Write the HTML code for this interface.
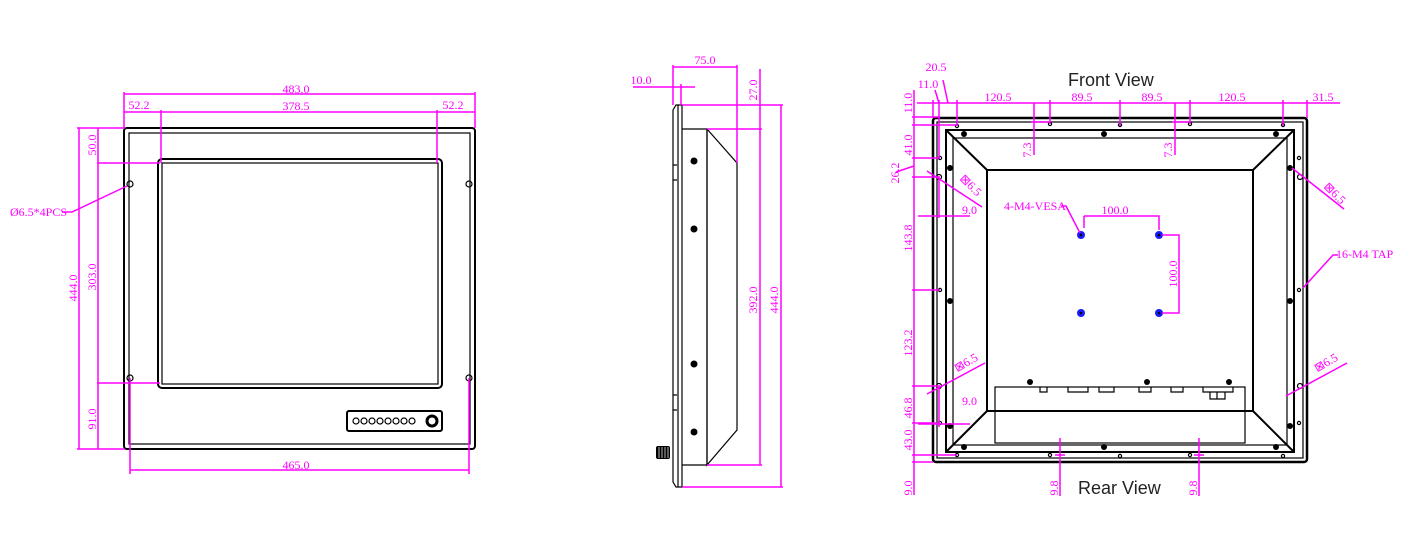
<!DOCTYPE html>
<html><head><meta charset="utf-8"><style>
html,body{margin:0;padding:0;background:#fff}
svg{display:block}
.m{stroke:#ff00ff;stroke-width:1.5;fill:none}
.k{stroke:#000;stroke-width:1.2;fill:none}
.kk{stroke:#000;stroke-width:2;fill:none}
.t{fill:#ff00ff;font-family:"Liberation Serif",serif;font-size:12px}
.h{fill:#222;font-family:"Liberation Sans",sans-serif;font-size:18px}
</style></head><body>
<svg width="1421" height="560" viewBox="0 0 1421 560" xmlns="http://www.w3.org/2000/svg">
<!-- FRONT (left) view -->
<g>
<rect x="124" y="128" width="351" height="321" rx="3" class="kk"/>
<rect x="129" y="133" width="341" height="311" class="k"/>
<rect x="158" y="159" width="284" height="229" rx="4" class="kk"/>
<rect x="162" y="163" width="276" height="221" class="k"/>
<g class="k">
<circle cx="130" cy="184" r="3"/><circle cx="469" cy="184" r="3"/>
<circle cx="130" cy="378" r="3"/><circle cx="469" cy="378" r="3"/>
</g>
<rect x="347" y="411" width="95" height="20" rx="2" class="kk"/>
<g class="k">
<circle cx="356" cy="421" r="3"/><circle cx="364" cy="421" r="3"/><circle cx="372" cy="421" r="3"/><circle cx="380" cy="421" r="3"/><circle cx="388" cy="421" r="3"/><circle cx="396" cy="421" r="3"/><circle cx="404" cy="421" r="3"/><circle cx="412" cy="421" r="3"/>
</g>
<circle cx="432" cy="421" r="5" stroke="#000" stroke-width="3" fill="none"/>
<g class="m">
<path d="M124 94H475M124 92V128M475 92V128"/>
<path d="M124 112H475M161 110V163M437 110V163"/>
<path d="M79 128V449M77 128H125M77 449H125"/>
<path d="M98 128V449M97 163H160M97 383H160"/>
<path d="M130 378V474M469 378V474M130 470H469"/>
<path d="M62 212H72L127 186"/>
</g>
<text class="t" x="296" y="93" text-anchor="middle">483.0</text>
<text class="t" x="139" y="109" text-anchor="middle">52.2</text>
<text class="t" x="296" y="110" text-anchor="middle">378.5</text>
<text class="t" x="453" y="109" text-anchor="middle">52.2</text>
<text class="t" x="296" y="469" text-anchor="middle">465.0</text>
<text class="t" x="10" y="216">Ø6.5*4PCS</text>
<text class="t" transform="translate(77,288) rotate(-90)" text-anchor="middle">444.0</text>
<text class="t" transform="translate(96,145) rotate(-90)" text-anchor="middle">50.0</text>
<text class="t" transform="translate(96,277) rotate(-90)" text-anchor="middle">303.0</text>
<text class="t" transform="translate(96,419) rotate(-90)" text-anchor="middle">91.0</text>
</g>
<!-- SIDE view -->
<g>
<path d="M676 105H682V487H676L673 482V110Z" class="k"/>
<path d="M678 105V487" class="k" stroke-width="0.8"/>
<path d="M673 165H677M673 180H677M673 395H677M673 410H677" class="k"/>
<path d="M682 129H707V465H682" class="k"/>
<path d="M707 129L737 163V430L707 465V129" class="k"/>
<g fill="#000">
<circle cx="694" cy="161" r="3.5"/><circle cx="694" cy="229" r="3.5"/>
<circle cx="694" cy="364" r="3.5"/><circle cx="694" cy="432" r="3.5"/>
<rect x="656" y="446" width="14" height="13" rx="2"/>
</g>
<path d="M659 447V458M662 447V458M665 447V458M668 447V458" stroke="#fff" stroke-width="0.7"/>
<g class="m">
<path d="M673 67H737M673 65V105M737 65V163"/>
<path d="M633 87H695M681 84V105"/>
<path d="M682 105H783M707 129H762M707 465H762M682 487H783"/>
<path d="M760 69V465M781 105V487"/>
</g>
<text class="t" x="705" y="64" text-anchor="middle">75.0</text>
<text class="t" x="641" y="84" text-anchor="middle">10.0</text>
<text class="t" transform="translate(757,90) rotate(-90)" text-anchor="middle">27.0</text>
<text class="t" transform="translate(757,300) rotate(-90)" text-anchor="middle">392.0</text>
<text class="t" transform="translate(778,300) rotate(-90)" text-anchor="middle">444.0</text>
</g>
<!-- REAR view -->
<g>
<text class="h" x="1068" y="86">Front View</text>
<text class="h" x="1078" y="494">Rear View</text>
<rect x="933" y="118" width="374" height="344" rx="3" stroke="#000" stroke-width="2.5" fill="none"/>
<rect x="937" y="122" width="366" height="336" class="k"/>
<rect x="946" y="130" width="348" height="322" class="kk"/>
<rect x="953" y="138" width="334" height="307" class="k"/>
<rect x="987" y="170" width="266" height="241" class="kk"/>
<path d="M946 130L987 170M1294 130L1253 170M946 452L987 411M1294 452L1253 411" class="kk"/>
<rect x="995" y="387" width="250" height="56" fill="#fff" class="k"/>
<path d="M1040 387v5h7v-5M1068 387v5h20v-5M1099 387v5h15v-5M1139 387v5h12v-5M1171 387v5h12v-5M1203 387v5h30v-5M1210 392v7h15v-7M1217 392v7" class="k"/>
<g fill="#000">
<circle cx="964" cy="134" r="3"/><circle cx="1104" cy="134" r="3"/><circle cx="1276" cy="134" r="3"/>
<circle cx="964" cy="447" r="3"/><circle cx="1104" cy="447" r="3"/><circle cx="1276" cy="447" r="3"/>
<circle cx="950" cy="168" r="3"/><circle cx="950" cy="301" r="3"/><circle cx="950" cy="426" r="3"/>
<circle cx="1290" cy="168" r="3"/><circle cx="1290" cy="301" r="3"/><circle cx="1290" cy="426" r="3"/>
<circle cx="1030" cy="382" r="3"/><circle cx="1147" cy="382" r="3"/><circle cx="1229" cy="382" r="3"/>
</g>
<g class="k" stroke-width="1">
<circle cx="957" cy="126" r="1.6"/><circle cx="1050" cy="124" r="1.6"/><circle cx="1120" cy="125" r="1.6"/><circle cx="1190" cy="124" r="1.6"/><circle cx="1283" cy="125" r="1.6"/>
<circle cx="957" cy="455" r="1.6"/><circle cx="1050" cy="455" r="1.6"/><circle cx="1120" cy="456" r="1.6"/><circle cx="1190" cy="455" r="1.6"/><circle cx="1283" cy="456" r="1.6"/>
<circle cx="940" cy="158" r="1.6"/><circle cx="940" cy="290" r="1.6"/><circle cx="940" cy="423" r="1.6"/>
<circle cx="1299" cy="158" r="1.6"/><circle cx="1299" cy="290" r="1.6"/><circle cx="1299" cy="423" r="1.6"/>
<circle cx="939" cy="177" r="2.5"/><circle cx="939" cy="386" r="2.5"/>
<circle cx="1300" cy="177" r="2.5"/><circle cx="1300" cy="386" r="2.5"/>
</g>
<g fill="#1a1aff">
<circle cx="1081" cy="235" r="4"/><circle cx="1159" cy="235" r="4"/><circle cx="1081" cy="313" r="4"/><circle cx="1159" cy="313" r="4"/>
</g>
<g fill="#000">
<circle cx="1081" cy="235" r="1.3"/><circle cx="1159" cy="235" r="1.3"/><circle cx="1081" cy="313" r="1.3"/><circle cx="1159" cy="313" r="1.3"/>
</g>
<g class="m">
<path d="M917 103H1340"/>
<path d="M933 100V118M939 100V158M957 100V126M1050 100V124M1120 100V126M1190 100V124M1283 100V126M1307 100V118"/>
<path d="M935 90L939 103M943 80L948 103"/>
<path d="M1034 103V155M1031 122H1050M1175 103V155M1172 122H1190"/>
<path d="M914 90V495"/>
<path d="M912 117H940M912 125H957M912 158H940M912 177H940M912 290H940M912 386H940M912 423H940M912 455H957M912 462H933"/>
<path d="M896 172L914 166"/>
<path d="M939 177V218M918 216H970M939 386V427M918 424H970"/>
<path d="M927 171L982 207M927 394L985 363M1292 168L1344 209M1286 396L1347 363"/>
<path d="M1061 206H1066L1080 233M1084 216V228M1084 216H1159V230"/>
<path d="M1162 235H1179V313H1162"/>
<path d="M1303 288L1333 255H1338"/>
<path d="M1060 438V496M1199 438V496M1055 455H1065M1194 455H1204"/>
</g>
<text class="t" x="936" y="71" text-anchor="middle">20.5</text>
<text class="t" x="928" y="88" text-anchor="middle">11.0</text>
<text class="t" x="998" y="101" text-anchor="middle">120.5</text>
<text class="t" x="1082" y="101" text-anchor="middle">89.5</text>
<text class="t" x="1152" y="101" text-anchor="middle">89.5</text>
<text class="t" x="1232" y="101" text-anchor="middle">120.5</text>
<text class="t" x="1323" y="101" text-anchor="middle">31.5</text>
<text class="t" x="1004" y="210">4-M4-VESA</text>
<text class="t" x="1115" y="214" text-anchor="middle">100.0</text>
<text class="t" x="1336" y="258">16-M4 TAP</text>
<text class="t" x="962" y="214">9.0</text>
<text class="t" x="962" y="405">9.0</text>
<text class="t" transform="translate(1031,150) rotate(-90)" text-anchor="middle">7.3</text>
<text class="t" transform="translate(1172,150) rotate(-90)" text-anchor="middle">7.3</text>
<text class="t" transform="translate(1177,274) rotate(-90)" text-anchor="middle">100.0</text>
<text class="t" transform="translate(912,103) rotate(-90)" text-anchor="middle">11.0</text>
<text class="t" transform="translate(912,145) rotate(-90)" text-anchor="middle">41.0</text>
<text class="t" transform="translate(899,173) rotate(-90)" text-anchor="middle">26.2</text>
<text class="t" transform="translate(912,238) rotate(-90)" text-anchor="middle">143.8</text>
<text class="t" transform="translate(912,343) rotate(-90)" text-anchor="middle">123.2</text>
<text class="t" transform="translate(912,408) rotate(-90)" text-anchor="middle">46.8</text>
<text class="t" transform="translate(912,440) rotate(-90)" text-anchor="middle">43.0</text>
<text class="t" transform="translate(912,488) rotate(-90)" text-anchor="middle">9.0</text>
<text class="t" transform="translate(1058,488) rotate(-90)" text-anchor="middle">9.8</text>
<text class="t" transform="translate(1197,488) rotate(-90)" text-anchor="middle">9.8</text>
<text class="t" transform="translate(968,188) rotate(45)" text-anchor="middle">⊠6.5</text>
<text class="t" transform="translate(1332,196) rotate(45)" text-anchor="middle">⊠6.5</text>
<text class="t" transform="translate(968,366) rotate(-30)" text-anchor="middle">⊠6.5</text>
<text class="t" transform="translate(1328,366) rotate(-30)" text-anchor="middle">⊠6.5</text>
</g>
</svg>
</body></html>
